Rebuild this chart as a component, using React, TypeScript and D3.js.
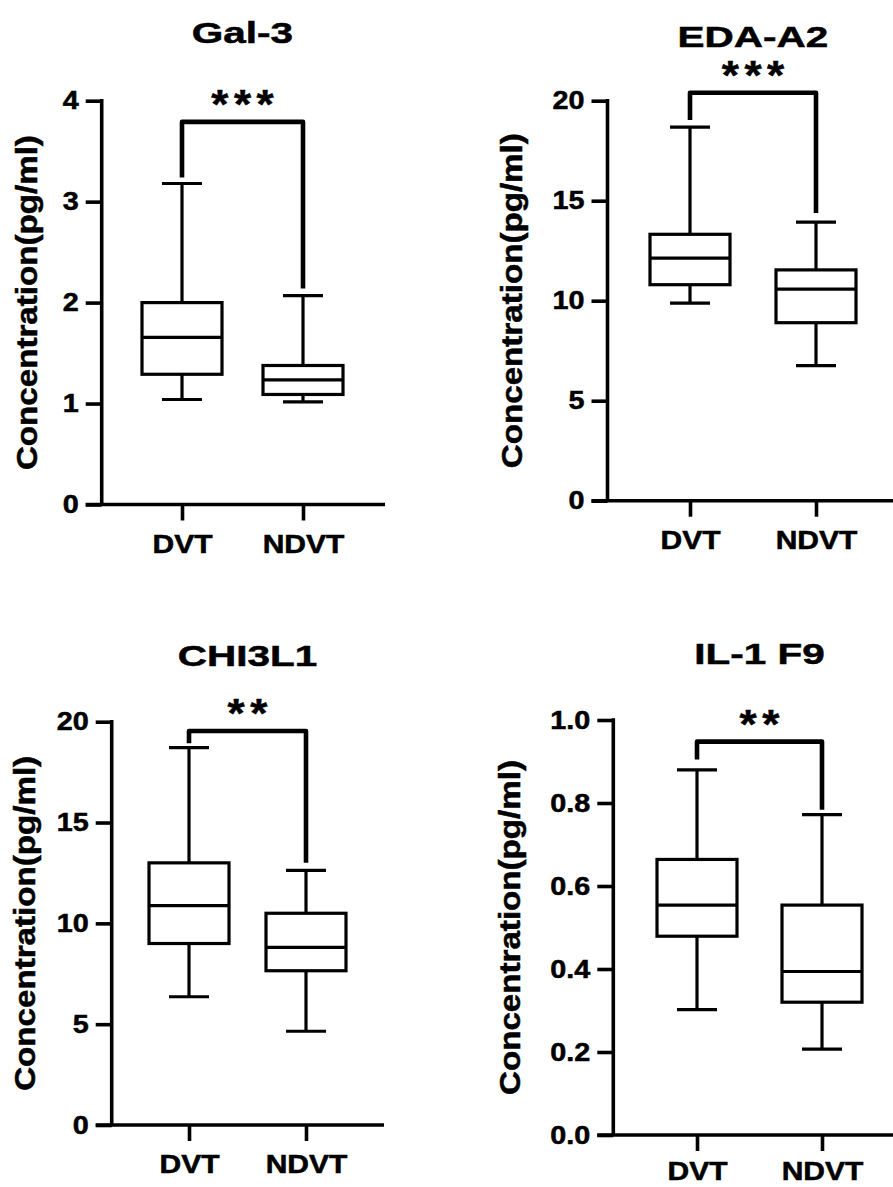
import React, { useEffect, useRef } from "react";
import * as d3 from "d3";

const W = 893;
const H = 1187;

const groups = ["DVT", "NDVT"];
const titles = ["Gal-3", "EDA-A2", "CHI3L1", "IL-1 F9"];

const gal3 = [
  { min: 1.04, q1: 1.29, median: 1.655, q3: 2.0, max: 3.18 },
  { min: 1.016, q1: 1.09, median: 1.235, q3: 1.377, max: 2.07 },
];
const edaA2 = [
  { min: 9.88, q1: 10.8, median: 12.13, q3: 13.32, max: 18.68 },
  { min: 6.75, q1: 8.9, median: 10.58, q3: 11.54, max: 13.93 },
];
const chi3l1 = [
  { min: 6.36, q1: 9.0, median: 10.88, q3: 13.0, max: 18.71 },
  { min: 4.65, q1: 7.65, median: 8.81, q3: 10.5, max: 12.63 },
];
const il1f9 = [
  { min: 0.302, q1: 0.479, median: 0.554, q3: 0.664, max: 0.88 },
  { min: 0.207, q1: 0.32, median: 0.394, q3: 0.554, max: 0.772 },
];
const allStats = [gal3, edaA2, chi3l1, il1f9];

const yTicks = [
  [0, 1, 2, 3, 4],
  [0, 5, 10, 15, 20],
  [0, 5, 10, 15, 20],
  [0, 0.2, 0.4, 0.6, 0.8, 1.0],
];
const tickFormats = ["d", "d", "d", ".1f"];

// significance brackets (data units)
const sigLabels = ["***", "***", "**", "**"];
const bracketTop = [3.79, 20.4, 19.54, 0.948];
const bracketLeftEnd = [3.24, 19.04, 18.93, 0.905];
const bracketRightEnd = [2.14, 14.39, 13.0, 0.784];

// pixel layout of each panel
const panels = [
  { ax: 101.7, yTop: 100.7, yBase: 504.5, xEnd: 385, dvt: 182, ndvt: 303, titleY: 43.3, yTitleX: 36.5, xPad: 15 },
  { ax: 607.5, yTop: 100.7, yBase: 500.7, xEnd: 893, dvt: 690, ndvt: 816, titleY: 47, yTitleX: 521.5, xPad: 15 },
  { ax: 111.7, yTop: 721.7, yBase: 1125, xEnd: 384, dvt: 189, ndvt: 306, titleY: 666, yTitleX: 35, xPad: 14 },
  { ax: 613.3, yTop: 720, yBase: 1135, xEnd: 893, dvt: 697, ndvt: 822, titleY: 664, yTitleX: 519.5, xPad: 11 },
];

const FONT = "'Liberation Sans', Arial, Helvetica, sans-serif";
const BOX_W = 80;
const CAP_W = 40;
const HEAVY = 0.5; // a hairline outline makes the bold text read as heavy as the source

// the source figure is slightly stretched sideways; mimic it on the text
const stretch = (sel, k) =>
  sel.each(function () {
    const w = this.getComputedTextLength();
    d3.select(this).attr("textLength", w * k).attr("lengthAdjust", "spacingAndGlyphs");
  });

const boldText = (sel, size) =>
  sel
    .attr("font-family", FONT)
    .attr("font-weight", "bold")
    .attr("font-size", size)
    .attr("fill", "#000")
    .attr("stroke", "#000")
    .attr("stroke-width", HEAVY);

const App = () => {
  const ref = useRef(null);

  useEffect(() => {
    const svg = d3.select(ref.current);
    svg.selectAll("*").remove();
    svg.append("rect").attr("width", W).attr("height", H).attr("fill", "white");

    panels.forEach((p, i) => {
      const stats = allStats[i];
      const ticks = yTicks[i];
      const top = d3.max(ticks);
      const y = d3.scaleLinear().domain([0, top]).range([p.yBase, p.yTop]);
      const x = d3.scalePoint().domain(groups).range([p.dvt, p.ndvt]);
      const mid = (p.dvt + p.ndvt) / 2;
      const g = svg.append("g");

      // y axis
      const ya = g
        .append("g")
        .attr("transform", `translate(${p.ax},0)`)
        .call(
          d3
            .axisLeft(y)
            .tickValues(ticks)
            .tickSize(16)
            .tickSizeOuter(0)
            .tickPadding(7)
            .tickFormat(d3.format(tickFormats[i]))
        );
      ya.select(".domain").remove();
      ya.selectAll("line").attr("stroke", "#000").attr("stroke-width", 3.6);
      boldText(ya.selectAll("text"), 25);
      stretch(ya.selectAll("text"), 1.15);
      g.append("line")
        .attr("x1", p.ax)
        .attr("x2", p.ax)
        .attr("y1", y(top) - 1.8)
        .attr("y2", y(0))
        .attr("stroke", "#000")
        .attr("stroke-width", 3.6);

      // x axis
      const xa = g
        .append("g")
        .attr("transform", `translate(0,${y(0)})`)
        .call(d3.axisBottom(x).tickSize(16).tickSizeOuter(0).tickPadding(p.xPad));
      xa.select(".domain").remove();
      xa.selectAll("line").attr("stroke", "#000").attr("stroke-width", 3.6);
      boldText(xa.selectAll("text"), 25);
      stretch(xa.selectAll("text"), 1.2);
      g.append("line")
        .attr("x1", p.ax - 16)
        .attr("x2", p.xEnd)
        .attr("y1", y(0))
        .attr("y2", y(0))
        .attr("stroke", "#000")
        .attr("stroke-width", 3.6);

      // y title
      boldText(
        g
          .append("text")
          .attr("transform", `translate(${p.yTitleX},${(p.yTop + p.yBase) / 2}) rotate(-90)`)
          .attr("text-anchor", "middle"),
        30
      )
        .attr("textLength", 335)
        .attr("lengthAdjust", "spacingAndGlyphs")
        .text("Concentration(pg/ml)");

      // title
      const t = boldText(
        g.append("text").attr("x", mid).attr("y", p.titleY).attr("text-anchor", "middle"),
        30
      ).text(titles[i]);
      stretch(t, 1.35);

      // boxes
      const boxes = g
        .append("g")
        .attr("stroke", "#000")
        .attr("stroke-width", 3.2)
        .attr("fill", "none")
        .selectAll("g")
        .data(stats)
        .join("g")
        .attr("transform", (d, j) => `translate(${x(groups[j])},0)`);

      boxes.append("line").attr("y1", (d) => y(d.max)).attr("y2", (d) => y(d.q3));
      boxes.append("line").attr("y1", (d) => y(d.q1)).attr("y2", (d) => y(d.min));
      boxes
        .append("line")
        .attr("x1", -CAP_W / 2)
        .attr("x2", CAP_W / 2)
        .attr("y1", (d) => y(d.max))
        .attr("y2", (d) => y(d.max));
      boxes
        .append("line")
        .attr("x1", -CAP_W / 2)
        .attr("x2", CAP_W / 2)
        .attr("y1", (d) => y(d.min))
        .attr("y2", (d) => y(d.min));
      boxes
        .append("rect")
        .attr("x", -BOX_W / 2)
        .attr("width", BOX_W)
        .attr("y", (d) => y(d.q3))
        .attr("height", (d) => y(d.q1) - y(d.q3))
        .attr("fill", "white");
      boxes
        .append("line")
        .attr("x1", -BOX_W / 2)
        .attr("x2", BOX_W / 2)
        .attr("y1", (d) => y(d.median))
        .attr("y2", (d) => y(d.median));

      // significance bracket
      const bracket = d3.line()([
        [x("DVT"), y(bracketLeftEnd[i])],
        [x("DVT"), y(bracketTop[i])],
        [x("NDVT"), y(bracketTop[i])],
        [x("NDVT"), y(bracketRightEnd[i])],
      ]);
      g.append("path")
        .attr("d", bracket)
        .attr("fill", "none")
        .attr("stroke", "#000")
        .attr("stroke-width", 4.6)
        .attr("stroke-linejoin", "round");

      const stars = sigLabels[i].split("");
      stars.forEach((c, k) => {
        const s = boldText(
          g
            .append("text")
            .attr("x", mid + (k - (stars.length - 1) / 2) * 22.7)
            .attr("y", y(bracketTop[i]) - 27 + 23)
            .attr("text-anchor", "middle"),
          40
        ).text(c);
        stretch(s, 1.1);
      });
    });
  }, []);

  return (
    <svg
      ref={ref}
      width={W}
      height={H}
      style={{ position: "absolute", left: 0, top: 0, display: "block" }}
    />
  );
};

export default App;
